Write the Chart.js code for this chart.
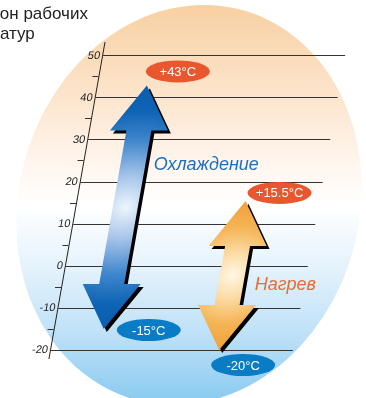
<!DOCTYPE html>
<html>
<head>
<meta charset="utf-8">
<script src="https://cdn.jsdelivr.net/npm/chart.js@4/dist/chart.umd.min.js"></script>
<style>
  html, body { margin: 0; padding: 0; background: #fff; }
  canvas { display: block; }
</style>
</head>
<body>
<canvas id="myChart" width="366" height="398"></canvas>
<script>
// data
const modes = ["Охлаждение", "Нагрев"];
const lowTemps = [-15, -20];
const highTemps = [43, 15.5];
const yTickLabels = [-20, -10, 0, 10, 20, 30, 40, 50];
const titleLines = ["Диапазон рабочих", "температур"];

// the whole scale leans to the right, like the original drawing
const SHEAR = -0.177;
const SHEAR_BASE = 350;

const arrowStyles = [
  {
    stops: [[0, "#eef5fc"], [0.25, "#a9c6ea"], [0.55, "#3f86cc"], [0.8, "#0e63b4"], [1, "#0a5eae"]],
    labelColor: "#1a6fc0",
    labelOffset: [81, -42],
    badgeColors: ["#e9572f", "#0a7cc6"],
    highBadge: [31, -14],
    lowBadge: [45, 1],
  },
  {
    stops: [[0, "#fff7e6"], [0.3, "#fcdca6"], [0.65, "#f5b456"], [1, "#f1a136"]],
    labelColor: "#ec6a2c",
    labelOffset: [53, 10],
    badgeColors: ["#e9572f", "#0a7cc6"],
    highBadge: [34, -8],
    lowBadge: [24, 15],
  },
];
const HEAD_W = 58;
const HEAD_LEN = 45;
const SHAFT_W = 25;

Chart.defaults.font.family = "'Liberation Sans', Arial, sans-serif";

function sx(x, y) {
  return x + SHEAR * (y - SHEAR_BASE);
}

function drawBackground(ctx) {
  ctx.save();
  ctx.transform(1, 0, -0.075, 1, 0.075 * 205, 0);
  const g = ctx.createLinearGradient(0, 5, 0, 405);
  g.addColorStop(0, "#f8d0a2");
  g.addColorStop(0.22, "#fce4cb");
  g.addColorStop(0.4, "#fff6ee");
  g.addColorStop(0.5, "#ffffff");
  g.addColorStop(0.65, "#e6f3fc");
  g.addColorStop(0.82, "#bfe1f7");
  g.addColorStop(1, "#86c9f0");
  ctx.fillStyle = g;
  ctx.beginPath();
  ctx.ellipse(189, 205, 172, 200, 0, 0, Math.PI * 2);
  ctx.fill();
  ctx.restore();
}

function drawTitle(ctx) {
  ctx.save();
  ctx.font = "17px 'Liberation Sans', Arial, sans-serif";
  ctx.fillStyle = "#222";
  ctx.textAlign = "left";
  ctx.textBaseline = "alphabetic";
  ctx.fillText(titleLines[0], -ctx.measureText("Диапаз").width, 19);
  ctx.fillText(titleLines[1], -ctx.measureText("темпер").width, 39);
  ctx.restore();
}

function drawArrow(ctx, x, top, bottom, style) {
  const hw = HEAD_W / 2, sw = SHAFT_W / 2, hl = HEAD_LEN;
  const mid = (top + bottom) / 2;
  const g = ctx.createRadialGradient(x, mid, 0, x, mid, (bottom - top) / 2);
  style.stops.forEach(([p, c]) => g.addColorStop(p, c));
  ctx.save();
  ctx.shadowColor = "#000";
  ctx.shadowOffsetX = 3;
  ctx.shadowOffsetY = 3;
  ctx.shadowBlur = 0;
  ctx.fillStyle = g;
  ctx.beginPath();
  ctx.moveTo(x, top);
  ctx.lineTo(x + hw, top + hl);
  ctx.lineTo(x + sw, top + hl);
  ctx.lineTo(x + sw, bottom - hl);
  ctx.lineTo(x + hw, bottom - hl);
  ctx.lineTo(x, bottom);
  ctx.lineTo(x - hw, bottom - hl);
  ctx.lineTo(x - sw, bottom - hl);
  ctx.lineTo(x - sw, top + hl);
  ctx.lineTo(x - hw, top + hl);
  ctx.closePath();
  ctx.fill();
  ctx.restore();
}

function drawBadge(ctx, cx, cy, color, value) {
  const num = (value > 0 ? "+" : "") + value;
  ctx.save();
  ctx.fillStyle = color;
  ctx.beginPath();
  ctx.ellipse(cx, cy, 32, 11, 0, 0, Math.PI * 2);
  ctx.fill();
  ctx.fillStyle = "#fff";
  ctx.textBaseline = "middle";
  ctx.textAlign = "center";
  ctx.font = "13px 'Liberation Sans', Arial, sans-serif";
  ctx.fillText(num + "°C", cx, cy + 1);
  ctx.restore();
}

const slantPlugin = {
  id: "slant",
  beforeDraw(chart) {
    const ctx = chart.ctx;
    drawBackground(ctx);
    drawTitle(ctx);
    ctx.save();
    ctx.transform(1, 0, SHEAR, 1, -SHEAR * SHEAR_BASE, 0);
  },
  afterDatasetsDraw(chart) {
    const ctx = chart.ctx;
    chart.getDatasetMeta(0).data.forEach((bar, i) => {
      const top = Math.min(bar.y, bar.base);
      const bottom = Math.max(bar.y, bar.base);
      drawArrow(ctx, bar.x, top, bottom, arrowStyles[i]);
    });
  },
  afterDraw(chart) {
    const ctx = chart.ctx;
    ctx.restore();
    chart.getDatasetMeta(0).data.forEach((bar, i) => {
      const st = arrowStyles[i];
      const top = Math.min(bar.y, bar.base);
      const bottom = Math.max(bar.y, bar.base);
      drawBadge(ctx, sx(bar.x, top) + st.highBadge[0], top + st.highBadge[1], st.badgeColors[0], highTemps[i]);
      drawBadge(ctx, sx(bar.x, bottom) + st.lowBadge[0], bottom + st.lowBadge[1], st.badgeColors[1], lowTemps[i]);

      const mid = (top + bottom) / 2;
      ctx.save();
      ctx.font = "italic 18px 'Liberation Sans', Arial, sans-serif";
      ctx.fillStyle = st.labelColor;
      ctx.textAlign = "center";
      ctx.textBaseline = "middle";
      ctx.fillText(modes[i], sx(bar.x, mid) + st.labelOffset[0], mid + st.labelOffset[1]);
      ctx.restore();
    });
  },
};

const ctx = document.getElementById("myChart").getContext("2d");
new Chart(ctx, {
  type: "bar",
  data: {
    datasets: [
      {
        label: "Диапазон",
        data: modes.map((m, i) => ({ x: i, y: [lowTemps[i], highTemps[i]] })),
        backgroundColor: "transparent",
        borderWidth: 0,
      },
    ],
  },
  options: {
    responsive: false,
    animation: false,
    events: [],
    layout: {
      padding: { left: 0, right: 73, top: 42, bottom: 40 },
    },
    plugins: {
      legend: { display: false },
      tooltip: { enabled: false },
      title: { display: false },
    },
    scales: {
      x: {
        type: "linear",
        display: false,
        offset: false,
        min: -0.42,
        max: 1.62,
      },
      y: {
        min: -21.9,
        max: 53.33,
        afterFit: (scale) => {
          scale.width = 50;
        },
        ticks: {
          stepSize: 5,
          includeBounds: false,
          padding: -4,
          color: "#222",
          font: { size: 11 },
          callback: (v) => (yTickLabels.includes(v) ? String(v) : ""),
        },
        grid: {
          tickLength: 6,
          lineWidth: 1,
          color: (c) => (c.tick && yTickLabels.includes(c.tick.value) ? "#333" : "transparent"),
          tickColor: (c) => (c.tick && yTickLabels.includes(c.tick.value) ? "transparent" : "#333"),
        },
        border: { display: true, color: "#222", width: 1 },
      },
    },
  },
  plugins: [slantPlugin],
});
</script>
</body>
</html>
